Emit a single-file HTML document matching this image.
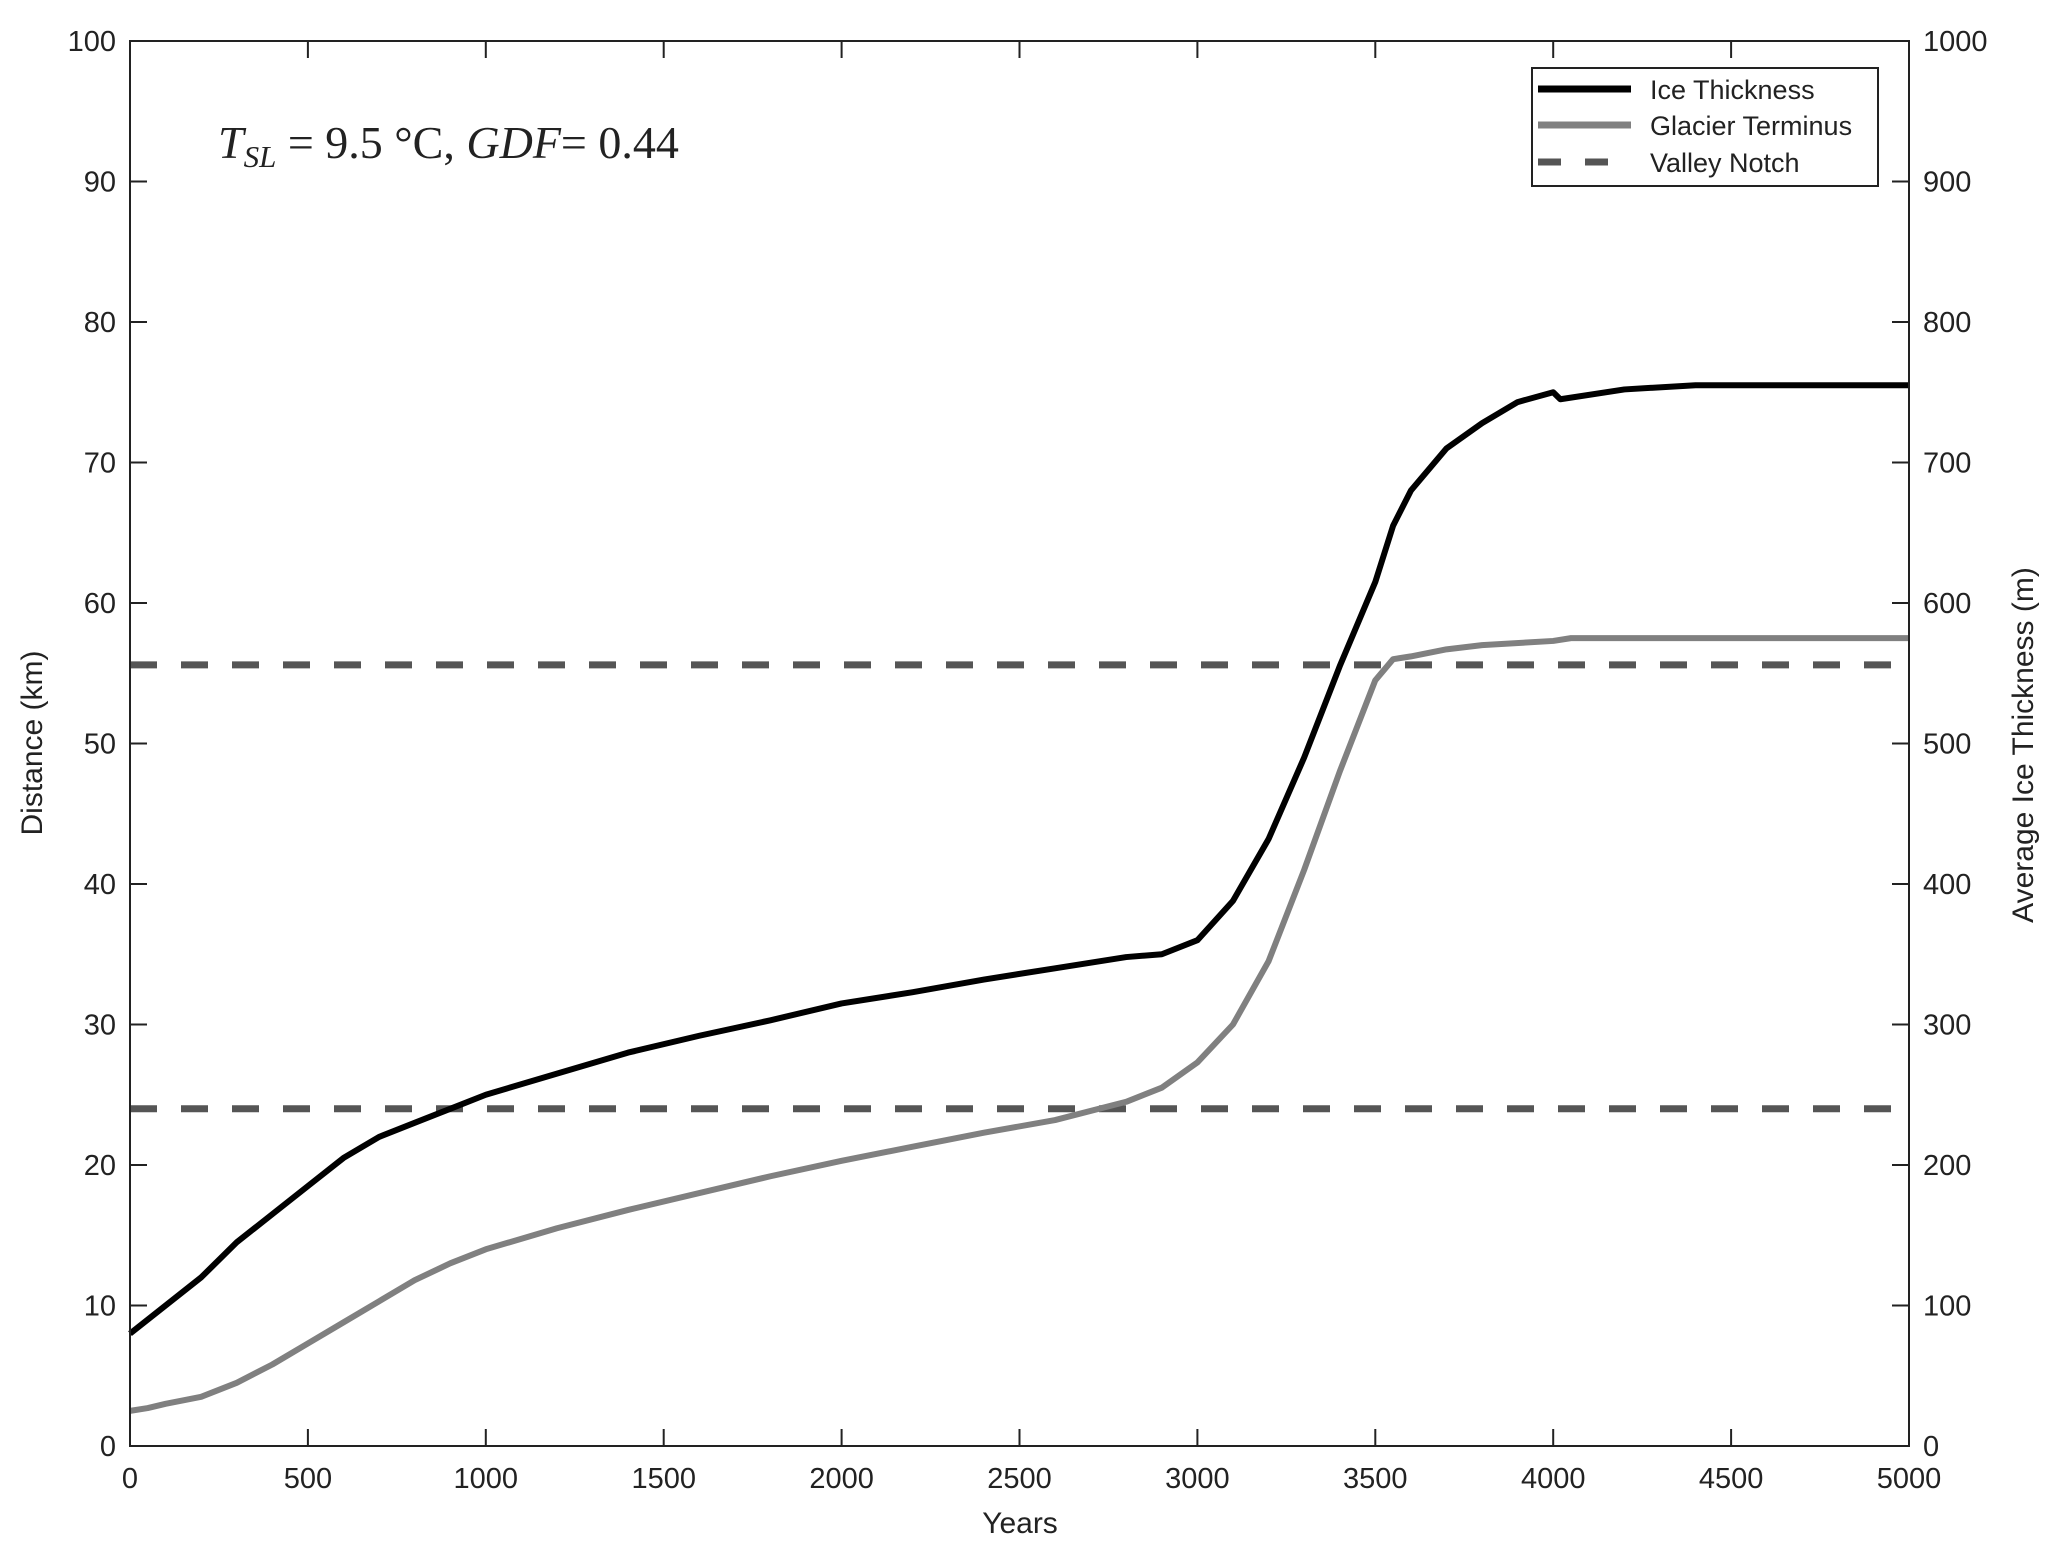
<!DOCTYPE html>
<html><head><meta charset="utf-8">
<style>
html,body{margin:0;padding:0;background:#fff;}
svg{display:block;}
text{font-family:"Liberation Sans",sans-serif;fill:#222;}
</style></head>
<body>
<svg id="chart" width="2067" height="1551" viewBox="0 0 2067 1551">
<g id="plot"></g>
</svg>
<script>
const years = [0,100,200,300,400,500,600,700,800,900,1000,1200,1400,1600,1800,2000,2200,2400,2600,2800,2900,3000,3100,3200,3300,3400,3500,3550,3600,3700,3800,3900,4000,4020,4200,4400,5000];
const iceThickness = [80,100,120,145,165,185,205,220,230,240,250,265,280,292,303,315,323,332,340,348,350,360,388,432,490,555,615,655,680,710,728,743,750,745,752,755,755];
const termYears = [0,50,100,200,300,400,500,600,700,800,900,1000,1200,1400,1600,1800,2000,2200,2400,2600,2800,2900,3000,3100,3200,3300,3400,3500,3550,3600,3700,3800,4000,4050,5000];
const terminus = [2.5,2.7,3,3.5,4.5,5.8,7.3,8.8,10.3,11.8,13,14,15.5,16.8,18,19.2,20.3,21.3,22.3,23.2,24.5,25.5,27.3,30,34.5,41,48,54.5,56,56.2,56.7,57,57.3,57.5,57.5];
const notches = [55.6, 24];
const xTicks = [0,500,1000,1500,2000,2500,3000,3500,4000,4500,5000];
const yTicks = [0,10,20,30,40,50,60,70,80,90,100];
const y2Ticks = [0,100,200,300,400,500,600,700,800,900,1000];

const L=130,R=1909,T=41,B=1446;
const xs=v=>L+(v/5000)*(R-L);
const ys=v=>B-(v/100)*(B-T);
const y2s=v=>B-(v/1000)*(B-T);
const NS="http://www.w3.org/2000/svg";
const g=document.getElementById('plot');
function mk(tag,attrs,parent){const e=document.createElementNS(NS,tag);for(const k in attrs)e.setAttribute(k,attrs[k]);(parent||g).appendChild(e);return e;}

notches.forEach((v,i)=>{
  const e=mk('line',{x1:L,x2:R,y1:ys(v),y2:ys(v),stroke:'#555','stroke-width':7,'stroke-dasharray':'27 24'});
  
  
});
let d=termYears.map((t,i)=>(i?'L':'M')+xs(t)+','+ys(terminus[i])).join(' ');
const tp=mk('path',{d:d,fill:'none',stroke:'#808080','stroke-width':6,'stroke-linejoin':'round'});


let d2=years.map((t,i)=>(i?'L':'M')+xs(t)+','+y2s(iceThickness[i])).join(' ');
const ip=mk('path',{d:d2,fill:'none',stroke:'#000','stroke-width':6,'stroke-linejoin':'round'});



const fr=mk('rect',{x:L,y:T,width:R-L,height:B-T,fill:'none',stroke:'#222','stroke-width':2});



xTicks.forEach(v=>{
  const x=xs(v);
  mk('line',{x1:x,x2:x,y1:B,y2:B-17,stroke:'#222','stroke-width':2});
  mk('line',{x1:x,x2:x,y1:T,y2:T+17,stroke:'#222','stroke-width':2});
  const t=mk('text',{x:x,y:B+42,'font-size':29,'text-anchor':'middle'});
  t.textContent=v;
  
  
});
yTicks.forEach(v=>{
  const y=ys(v);
  mk('line',{x1:L,x2:L+17,y1:y,y2:y,stroke:'#222','stroke-width':2});
  const t=mk('text',{x:L-14,y:y+10,'font-size':29,'text-anchor':'end'});
  t.textContent=v;
  
  
});
y2Ticks.forEach(v=>{
  const y=y2s(v);
  mk('line',{x1:R,x2:R-17,y1:y,y2:y,stroke:'#222','stroke-width':2});
  const t=mk('text',{x:R+14,y:y+10,'font-size':29,'text-anchor':'start'});
  t.textContent=v;
  
  
});
</script>
<svg width="2067" height="1551" style="position:absolute;left:0;top:0">
<text x="1020" y="1533" font-size="30" text-anchor="middle">Years</text>
<text transform="translate(42,743) rotate(-90)" font-size="30" text-anchor="middle">Distance (km)</text>
<text transform="translate(2033,745) rotate(-90)" font-size="30" text-anchor="middle">Average Ice Thickness (m)</text>
<text x="218" y="158" font-size="46" style="font-family:'Liberation Serif',serif"><tspan font-style="italic">T</tspan><tspan font-style="italic" font-size="31" dy="9">SL</tspan><tspan dy="-9"> = 9.5 °C, </tspan><tspan font-style="italic">GDF</tspan><tspan>= 0.44</tspan></text>
<g>
<rect x="1532" y="68" width="346" height="118" fill="#fff" stroke="#222" stroke-width="2"/>
<line x1="1538" x2="1631" y1="89" y2="89" stroke="#000" stroke-width="7"/>
<text x="1650" y="99" font-size="27">Ice Thickness</text>
<line x1="1538" x2="1631" y1="125" y2="125" stroke="#808080" stroke-width="7"/>
<text x="1650" y="135" font-size="27">Glacier Terminus</text>
<line x1="1538" x2="1608" y1="162" y2="162" stroke="#555" stroke-width="7" stroke-dasharray="23 24"/>
<text x="1650" y="172" font-size="27">Valley Notch</text>
</g>
</svg>
</body></html>
